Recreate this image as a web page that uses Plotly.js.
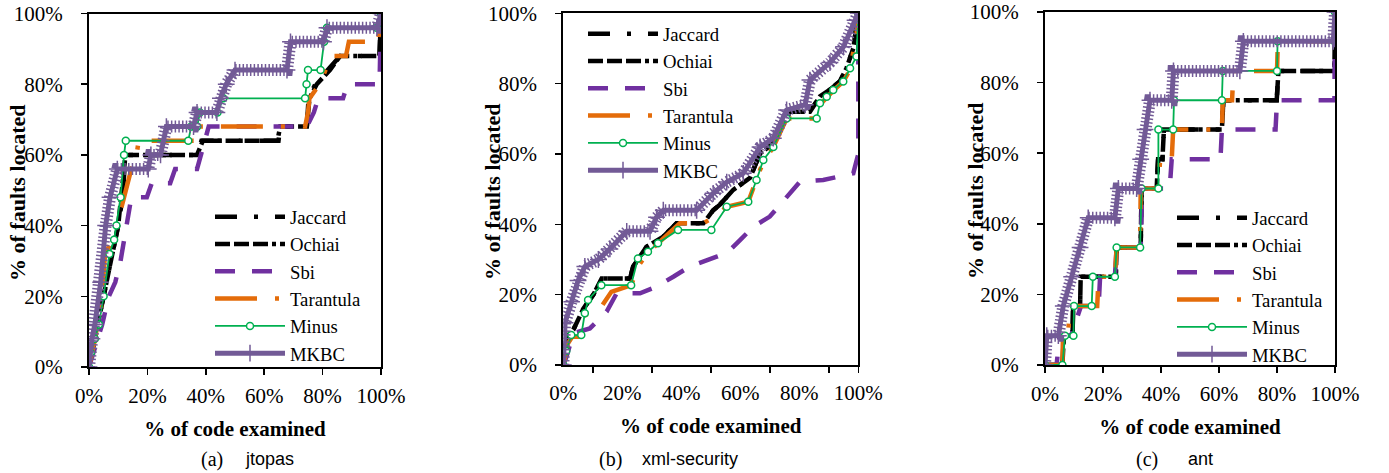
<!DOCTYPE html>
<html>
<head>
<meta charset="utf-8">
<script src="https://cdn.plot.ly/plotly-3.0.1.min.js"></script>
<style>
  html, body { margin: 0; padding: 0; background: #ffffff; }
  #chart { width: 1389px; height: 473px; }
</style>
</head>
<body>
<div id="chart"></div>
<script>
// ---------------- DATA ----------------
var methods = ['Jaccard', 'Ochiai', 'Sbi', 'Tarantula', 'Minus', 'MKBC'];
var xTickVals = [0, 20, 40, 60, 80, 100];
var xTickText = ['0%', '20%', '40%', '60%', '80%', '100%'];
var yTickVals = [0, 20, 40, 60, 80, 100];
var yTickText = ['0%', '20%', '40%', '60%', '80%', '100%'];
var captionLetters = ['(a)', '(b)', '(c)'];
var captionNames = ['jtopas', 'xml-security', 'ant'];

// (a) jtopas
var a_jaccard_x = [0, 2, 4, 6, 8, 10, 11.5, 12, 12.5, 36.9, 38.5, 64.9, 65.5, 74.6, 75.2, 77.5, 82, 86, 99.5, 100];
var a_jaccard_y = [0, 8, 16, 24, 32, 40, 48, 56, 60, 60, 64, 64, 68, 68, 76, 80, 84, 88, 88, 100];
var a_ochiai_x = [0, 2, 4, 6, 8, 10, 11, 12, 12.5, 37, 39, 64.5, 65.5, 74.6, 75.5, 78, 82.5, 86, 99.5, 100];
var a_ochiai_y = [0, 8, 16, 24, 32, 40, 48, 56, 60, 60, 64, 64, 68, 68, 76, 80, 84, 88, 88, 100];
var a_sbi_x = [0, 1.5, 4.5, 6.8, 9, 10.8, 13, 14.5, 19.8, 21.5, 27.8, 29.5, 37, 39.5, 41, 74.6, 77, 78.5, 87, 88.5, 99.5, 100];
var a_sbi_y = [0, 4, 12, 20, 24, 30, 40, 48, 48, 52, 52, 56, 56, 64, 68, 68, 72, 76, 76, 80, 80, 100];
var a_tarantula_x = [0, 2, 4, 5.5, 8, 9.5, 12, 14.5, 16.3, 17, 37, 37.5, 74, 75, 75.5, 79, 83, 88, 89, 99, 100];
var a_tarantula_y = [0, 8, 16, 32, 36, 40, 48, 56, 60, 64, 64, 68, 68, 72, 76, 80, 88, 88, 92, 92, 100];
var a_minus_x = [0, 0.6, 2, 3.4, 5, 7, 8.6, 9.4, 10.8, 12, 12.6, 34, 35, 37, 38, 44, 46, 74, 74.5, 75, 79.3, 80.5, 81.5, 98.5, 100];
var a_minus_y = [0, 4, 8, 12, 20, 32, 36, 40, 48, 60, 64, 64, 68, 68, 72, 72, 76, 76, 80, 84, 84, 92, 96, 96, 100];
var a_mkbc_x = [0, 1, 2, 4, 5.7, 7.2, 9.7, 20.3, 21.2, 24.5, 26.5, 35.8, 37, 43.8, 45, 47, 50, 67.8, 69, 80.3, 81.5, 98.6, 100];
var a_mkbc_y = [0, 8, 12, 24, 40, 48, 56, 56, 60, 60, 68, 68, 72, 72, 76, 80, 84, 84, 92, 92, 96, 96, 100];

// (b) xml-security
var b_jaccard_x = [0, 1.1, 3.4, 6.8, 10.2, 13, 22.6, 23.7, 28.2, 33.9, 38.4, 47.5, 50.8, 53.1, 57.6, 63.3, 66.7, 71.2, 76.8, 83.6, 87, 90.4, 93.8, 96, 98.3, 100];
var b_jaccard_y = [0, 8, 10, 16, 20, 24.6, 24.6, 28, 33.6, 36.5, 40.3, 40.3, 44, 45.6, 49.8, 53.2, 60.2, 63, 72, 72, 76.4, 78.3, 80.7, 84.4, 90, 100];
var b_ochiai_x = [0, 1.1, 3.4, 6.8, 10.2, 13, 22.6, 23.7, 28.2, 33.9, 38.4, 47.5, 50.8, 53.1, 57.6, 63.3, 66.7, 71.2, 76.8, 83.6, 87, 90.4, 93.8, 96, 98.3, 100];
var b_ochiai_y = [0, 8, 10, 16, 20, 24.6, 24.6, 28, 33.6, 36.5, 40.3, 40.3, 44, 45.6, 49.8, 53.2, 60.2, 63, 72, 72, 76.4, 78.3, 80.7, 84.4, 90, 100];
var b_sbi_x = [0, 1.1, 3.4, 9, 14.7, 18.1, 26, 31.6, 37.3, 42.9, 52, 55.4, 59.9, 64.4, 70, 75.7, 80.2, 88.1, 98.3, 100, 100];
var b_sbi_y = [0, 2.4, 9, 10.4, 15.2, 20.4, 20.4, 22.3, 25.1, 28, 30.8, 31.8, 35.5, 39.3, 42.2, 47.9, 52.1, 52.6, 54.5, 60, 100];
var b_tarantula_x = [0, 1.5, 3, 6, 7, 12.9, 16.3, 23, 25.3, 28.7, 32.1, 39.5, 47.5, 51.4, 55.4, 62.7, 66.7, 68, 71.2, 75.7, 85.9, 87, 91.5, 94.9, 97.2, 99.4, 100];
var b_tarantula_y = [0, 6, 8, 8, 14, 16.6, 20.8, 22.7, 28, 32, 34.6, 40.3, 40.3, 42.2, 45, 46.4, 55.5, 58, 62, 70.1, 70.1, 74, 78, 80.6, 84, 94, 100];
var b_minus_x = [0, 1, 2.7, 6.1, 7.3, 8.4, 12.9, 23, 25.3, 28.7, 32.1, 38.9, 50.2, 55.4, 62.7, 65.5, 67.8, 71.2, 75.7, 85.9, 87, 89.3, 91.5, 94.9, 97.2, 99.4, 100];
var b_minus_y = [0, 4, 8.5, 8.5, 14.7, 18.5, 22.7, 22.7, 30.3, 32.2, 34.6, 38.4, 38.4, 45, 46.4, 52.6, 58.3, 62, 70.1, 70.1, 74.4, 76.3, 78.2, 80.6, 84.4, 87.7, 100];
var b_mkbc_x = [0, 0.6, 2.8, 5, 7.3, 11.9, 15.8, 21.5, 29.4, 31.6, 33.9, 45.2, 50.8, 55.4, 61, 66.7, 71.2, 75.7, 82, 83.6, 90.4, 95, 98.9, 100];
var b_mkbc_y = [0, 12, 18, 24, 28, 30, 33, 38, 38, 42, 44, 44, 48.8, 52, 54.5, 62, 64.5, 72.5, 74, 81, 86, 90.5, 98, 100];

// (c) ant
var c_jaccard_x = [0, 6, 6.5, 9.5, 9.7, 12.1, 12.3, 24.4, 24.7, 33, 33.3, 38.5, 39, 40.5, 41, 61, 61.5, 79.9, 80.5, 99.8, 100];
var c_jaccard_y = [0, 0, 8.3, 8.3, 16.7, 16.7, 25, 25, 33.3, 33.3, 50, 50, 58.3, 58.3, 66.7, 66.7, 75, 75, 83.3, 83.3, 100];
var c_ochiai_x = [0, 6, 6.5, 9.5, 9.7, 12.1, 12.3, 24.4, 24.7, 33, 33.3, 38.5, 39, 40.5, 41, 61, 61.5, 79.9, 80.5, 99.8, 100];
var c_ochiai_y = [0, 0, 8.3, 8.3, 16.7, 16.7, 25, 25, 33.3, 33.3, 50, 50, 58.3, 58.3, 66.7, 66.7, 75, 75, 83.3, 83.3, 100];
var c_sbi_x = [0, 4, 5, 9, 12.4, 18.5, 19, 24.1, 24.7, 33, 33.5, 43, 43.7, 60.5, 61, 79.5, 80, 99.8, 100];
var c_sbi_y = [0, 0, 8.3, 8.3, 16.7, 16.7, 25, 25, 33.3, 33.3, 50, 50, 58.3, 58.3, 66.7, 66.7, 75, 75, 100];
var c_tarantula_x = [0, 6, 6.2, 8, 8.5, 18, 18.5, 24.1, 24.7, 32.8, 33, 39.1, 39.7, 43.7, 44.2, 61, 61.3, 64.5, 65, 80, 80.3, 99.8, 100];
var c_tarantula_y = [0, 0, 8.3, 8.3, 16.7, 16.7, 25, 25, 33.3, 33.3, 50, 50, 58.3, 58.3, 66.7, 66.7, 75, 75, 83.3, 83.3, 91.7, 91.7, 100];
var c_minus_x = [0, 6, 6.9, 9.8, 10, 16.1, 16.5, 24.1, 24.7, 32.8, 33.3, 39.1, 39.1, 44.2, 44.5, 61, 61.3, 80, 80.2, 99.8, 100];
var c_minus_y = [0, 0, 8.3, 8.3, 16.7, 16.7, 25, 25, 33.3, 33.3, 50, 50, 66.7, 66.7, 75, 75, 83.3, 83.3, 91.7, 91.7, 100];
var c_mkbc_x = [0, 0.6, 4.6, 6.3, 9.2, 12.1, 14.9, 24.1, 25.3, 31.6, 33, 34.5, 36.2, 43.7, 44.3, 67.2, 68.4, 99.4, 100];
var c_mkbc_y = [0, 8.3, 8.3, 16.7, 25, 33.3, 41.7, 41.7, 50, 50, 58.3, 66.7, 75, 75, 83.3, 83.3, 91.7, 91.7, 100];

// ---------------- STYLE ----------------
var W = 1389, H = 473;
var SERIF = 'Liberation Serif, Times New Roman, serif';
var SANS = 'Liberation Sans, Arial, sans-serif';
function px(x) { return x / W; }
function py(y) { return 1 - y / H; }

var style = {
  Jaccard:   { color: '#000000', width: 4.5, dash: '22px,17px,4px,17px' },
  Ochiai:    { color: '#000000', width: 4.5, dash: '15px,4px,15px,4px,15px,4px,4px,4px' },
  Sbi:       { color: '#7030a0', width: 4.5, dash: '20px,17px' },
  Tarantula: { color: '#e46c0a', width: 4.5, dash: '42px,18px,4px,18px' },
  Minus:     { color: '#00b050', width: 1.8, dash: 'solid' },
  MKBC:      { color: '#725a96', width: 5,   dash: 'solid' }
};

var panels = [
  { xa: 'x',  ya: 'y',  legend: 'legend',
    data: { Jaccard: [a_jaccard_x, a_jaccard_y], Ochiai: [a_ochiai_x, a_ochiai_y], Sbi: [a_sbi_x, a_sbi_y],
            Tarantula: [a_tarantula_x, a_tarantula_y], Minus: [a_minus_x, a_minus_y], MKBC: [a_mkbc_x, a_mkbc_y] } },
  { xa: 'x2', ya: 'y2', legend: 'legend2',
    data: { Jaccard: [b_jaccard_x, b_jaccard_y], Ochiai: [b_ochiai_x, b_ochiai_y], Sbi: [b_sbi_x, b_sbi_y],
            Tarantula: [b_tarantula_x, b_tarantula_y], Minus: [b_minus_x, b_minus_y], MKBC: [b_mkbc_x, b_mkbc_y] } },
  { xa: 'x3', ya: 'y3', legend: 'legend3',
    data: { Jaccard: [c_jaccard_x, c_jaccard_y], Ochiai: [c_ochiai_x, c_ochiai_y], Sbi: [c_sbi_x, c_sbi_y],
            Tarantula: [c_tarantula_x, c_tarantula_y], Minus: [c_minus_x, c_minus_y], MKBC: [c_mkbc_x, c_mkbc_y] } }
];

var traces = [];
panels.forEach(function (p) {
  methods.forEach(function (m) {
    var d = p.data[m], s = style[m];
    var base = { x: d[0], y: d[1], xaxis: p.xa, yaxis: p.ya, type: 'scatter', hoverinfo: 'skip' };
    if (m === 'MKBC') {
      // dense "+" texture of the marker comb
      traces.push(Object.assign({}, base, {
        mode: 'lines', showlegend: false,
        line: { color: s.color, width: 12, dash: '1.5px,2.2px' }
      }));
    }
    var t = Object.assign({}, base, {
      name: m, legend: p.legend, showlegend: true,
      mode: (m === 'Minus' || m === 'MKBC') ? 'lines+markers' : 'lines',
      line: { color: s.color, width: s.width, dash: s.dash }
    });
    if (m === 'Minus') {
      t.marker = { symbol: 'circle', size: 7, color: '#ffffff', line: { color: s.color, width: 1.5 } };
    }
    if (m === 'MKBC') {
      t.marker = { symbol: 'cross-thin-open', size: 12, color: s.color, line: { color: s.color, width: 1.5 } };
    }
    traces.push(t);
  });
});

function xAxis(domain, anchor) {
  return {
    domain: domain, anchor: anchor, range: [0, 100], fixedrange: true,
    showgrid: false, zeroline: false, showline: true, mirror: true,
    linecolor: '#000000', linewidth: 2,
    tickmode: 'array', tickvals: xTickVals, ticktext: xTickText,
    ticks: 'outside', ticklen: 6, tickwidth: 1.5, tickcolor: '#000000',
    ticklabelstandoff: 3, ticklabeloverflow: 'allow',
    tickfont: { family: SERIF, size: 21, color: '#000000' },
    title: { text: '<b>% of code examined</b>', font: { family: SERIF, size: 21, color: '#000000' }, standoff: 14 }
  };
}
function yAxis(domain, anchor) {
  return {
    domain: domain, anchor: anchor, range: [0, 100], fixedrange: true,
    showgrid: false, zeroline: false, showline: true, mirror: true,
    linecolor: '#000000', linewidth: 2,
    tickmode: 'array', tickvals: yTickVals, ticktext: yTickText,
    ticks: 'outside', ticklen: 6, tickwidth: 1.5, tickcolor: '#000000',
    ticklabelstandoff: 14, ticklabeloverflow: 'allow',
    tickfont: { family: SERIF, size: 21, color: '#000000' }
  };
}
function legendAt(xpx, ypx) {
  return {
    x: px(xpx), y: py(ypx), xanchor: 'left', yanchor: 'top', xref: 'paper', yref: 'paper',
    bgcolor: 'rgba(0,0,0,0)', borderwidth: 0, itemwidth: 70, traceorder: 'normal',
    font: { family: SERIF, size: 18.7, color: '#000000' }, itemclick: false, itemdoubleclick: false
  };
}

var xa2 = xAxis([px(563.3), px(858.3)], 'y2');
xa2.ticks = '';
xa2.minor = { tickmode: 'array', tickvals: [10, 30, 50, 70, 90, 100], ticks: 'outside', ticklen: 6, tickwidth: 1.5, tickcolor: '#000000', showgrid: false };
xa2.ticklabelstandoff = 8;

var annotations = [];
var ytitleY = [193, 192, 191];
var ytitleX = [18, 493, 975];
var capLetterX = [199, 597, 1134];
var capNameX = [243, 640, 1186];
for (var i = 0; i < 3; i++) {
  annotations.push({ text: '<b>% of faults located</b>', textangle: -90, xref: 'paper', yref: 'paper',
    x: px(ytitleX[i]), y: py(ytitleY[i]), xanchor: 'center', yanchor: 'middle', showarrow: false,
    font: { family: SERIF, size: 22, color: '#000000' } });
  annotations.push({ text: captionLetters[i], xref: 'paper', yref: 'paper', x: px(capLetterX[i]), y: py(459),
    xanchor: 'left', yanchor: 'middle', showarrow: false, font: { family: SERIF, size: 20, color: '#000000' } });
  annotations.push({ text: captionNames[i], xref: 'paper', yref: 'paper', x: px(capNameX[i]), y: py(459),
    xanchor: 'left', yanchor: 'middle', showarrow: false, font: { family: SANS, size: 18, color: '#000000' } });
}

var layout = {
  width: W, height: H, margin: { l: 0, r: 0, t: 0, b: 0 },
  paper_bgcolor: '#ffffff', plot_bgcolor: '#ffffff',
  xaxis: xAxis([px(89), px(381)], 'y'),
  yaxis: yAxis([py(367), py(13.5)], 'x'),
  xaxis2: xa2,
  yaxis2: yAxis([py(365), py(13.3)], 'x2'),
  xaxis3: xAxis([px(1045), px(1335)], 'y3'),
  yaxis3: yAxis([py(365), py(12)], 'x3'),
  legend: legendAt(210, 198),
  legend2: legendAt(583, 15),
  legend3: legendAt(1172, 199),
  annotations: annotations,
  showlegend: true
};

Plotly.newPlot('chart', traces, layout, { staticPlot: true, displayModeBar: false }).then(function (gd) {
  // lengthen legend samples to the long strokes of the original
  gd.querySelectorAll('.legendlines path').forEach(function (p) { p.setAttribute('d', 'M5,0h70'); });
  gd.querySelectorAll('.legendpoints path').forEach(function (p) { p.setAttribute('transform', 'translate(40,0)'); });
});
</script>
</body>
</html>
